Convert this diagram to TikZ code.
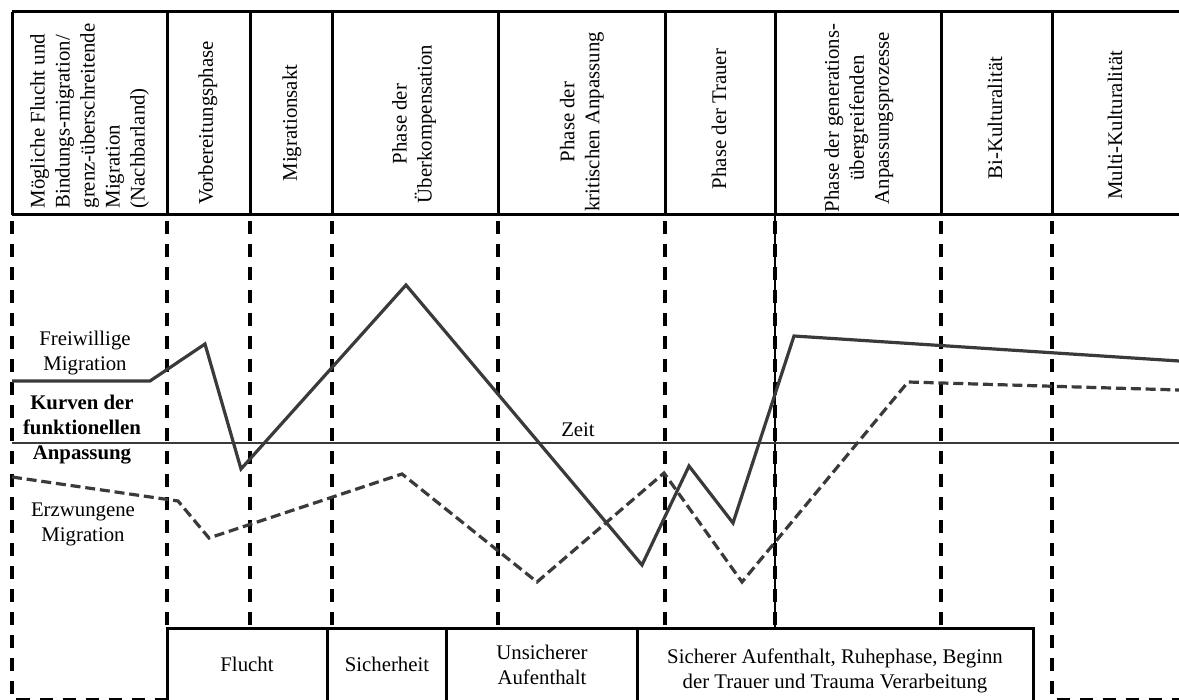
\documentclass[tikz,border=0pt]{standalone}
\usepackage{fontspec}
\setmainfont{Liberation Serif}
\definecolor{curvegray}{HTML}{3A3A3A}
\newcommand{\figtext}{\fontsize{10.4pt}{12.5pt}\selectfont}
\tikzset{
  rule/.style={line width=1.5pt, draw=black},
  phaseline/.style={line width=1.6pt, draw=black, dash pattern=on 6.5pt off 5pt, dash phase=8.5pt},
  freiwillig/.style={line width=1.6pt, draw=curvegray, line join=miter},
  erzwungen/.style={line width=1.6pt, draw=curvegray, dash pattern=on 5pt off 2.4pt},
  zeitachse/.style={line width=1pt, draw=curvegray},
  head/.style={rotate=90, align=center, font=\figtext, inner sep=0pt},
  lbl/.style={align=center, font=\figtext, inner sep=0pt},
}
\begin{document}
\begin{tikzpicture}[x=0.5pt, y=-0.5pt]
\useasboundingbox (0,0) rectangle (1179,700);
\clip (0,0) rectangle (1179,700);

% header table
\draw[rule] (12,12) -- (1179,12);
\draw[rule] (12,215) -- (1179,215);
\foreach \x in {12,167,250,332,498,665,775,941,1052}
  \draw[rule] (\x,12) -- (\x,215);

\node[head, align=left] (h1) at (89.5,116) {Mögliche Flucht und\\Bindungs-migration/\\grenz-überschreitende\\Migration\\(Nachbarland)};
\node[head] (h2) at (208,123) {Vorbereitungsphase};
\node[head] (h3) at (292,123) {Migrationsakt};
\node[head] (h4) at (414,124) {Phase der\\Überkompensation};
\node[head] (h5) at (582,122) {Phase der\\kritischen Anpassung};
\node[head] (h6) at (719,119) {Phase der Trauer};
\node[head] (h7) at (859,118) {Phase der generations-\\übergreifenden\\Anpassungsprozesse};
\node[head] (h8) at (995,118) {Bi-Kulturalität};
\node[head] (h9) at (1115,125) {Multi-Kulturalität};

% phase boundaries
\foreach \x in {167,250,332,498,665,775,941}
  \draw[phaseline] (\x,215) -- (\x,628);
\draw[line width=0.6pt] (775,215) -- (775,628);
\draw[phaseline] (12,215) -- (12,699.5) -- (167,699.5);
\draw[phaseline] (1052,215) -- (1052,699.5) -- (1179,699.5);

% time axis
\draw[zeitachse] (12,443) -- (1179,443);
\node[lbl] (zeit) at (578,430) {Zeit};

% adaptation curves
\draw[freiwillig] (12,381) -- (150,381) -- (205,344) -- (241,469) -- (406,285)
  -- (642,565) -- (689,466) -- (733,523) -- (794,336) -- (1179,361);
\draw[erzwungen] (12,477) -- (178,501) -- (209,538) -- (402,474) -- (537,582)
  -- (664,473) -- (742,582) -- (908,382) -- (1179,390);

% curve labels
\node[lbl] (fw) at (85,353) {Freiwillige\\Migration};
\node[lbl, font=\figtext\bfseries] (kurven) at (82,430) {Kurven der\\funktionellen\\Anpassung};
\node[lbl] (ez) at (83,524) {Erzwungene\\Migration};

% situation boxes
\draw[rule] (167,705) -- (167,628) -- (1033,628) -- (1033,705);
\foreach \x in {327,446,637}
  \draw[rule] (\x,628) -- (\x,705);
\node[lbl] (b1) at (247,664) {Flucht};
\node[lbl] (b2) at (387,664) {Sicherheit};
\node[lbl] (b3) at (542,665) {Unsicherer\\Aufenthalt};
\node[lbl] (b4) at (835,671) {Sicherer Aufenthalt, Ruhephase, Beginn\\der Trauer und Trauma Verarbeitung};
\end{tikzpicture}
\end{document}
